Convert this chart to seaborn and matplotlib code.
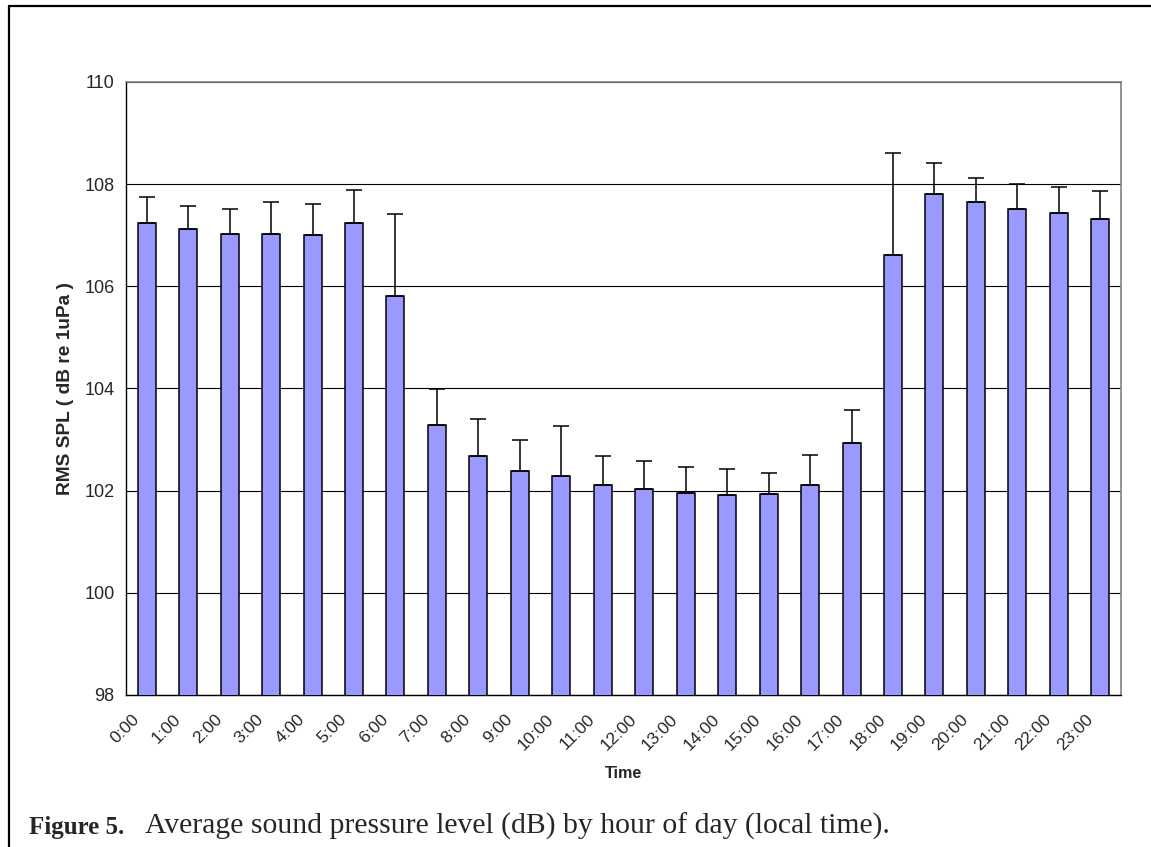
import numpy as np
import pandas as pd
import matplotlib
matplotlib.use("Agg")
import matplotlib.pyplot as plt
from matplotlib.lines import Line2D
from matplotlib.transforms import ScaledTranslation
import seaborn as sns

hours = ["0:00", "1:00", "2:00", "3:00", "4:00", "5:00", "6:00", "7:00",
         "8:00", "9:00", "10:00", "11:00", "12:00", "13:00", "14:00", "15:00",
         "16:00", "17:00", "18:00", "19:00", "20:00", "21:00", "22:00", "23:00"]
mean_spl = [107.24, 107.12, 107.03, 107.03, 107.00, 107.24, 105.82, 103.29,
            102.68, 102.38, 102.29, 102.12, 102.03, 101.95, 101.91, 101.94,
            102.11, 102.93, 106.61, 107.81, 107.65, 107.52, 107.44, 107.31]
sd_spl = [0.51, 0.45, 0.49, 0.62, 0.61, 0.65, 1.60, 0.70,
          0.72, 0.61, 0.98, 0.56, 0.55, 0.51, 0.51, 0.40,
          0.58, 0.65, 2.00, 0.60, 0.47, 0.49, 0.51, 0.55]
y_ticks = [98, 100, 102, 104, 106, 108, 110]

df = pd.DataFrame({"Time": hours, "SPL": mean_spl, "SD": sd_spl})

sns.set_style("white")
plt.rcParams["font.family"] = ["Liberation Sans", "DejaVu Sans"]

W, H = 1151, 847
fig = plt.figure(figsize=(W / 100, H / 100), dpi=100)
ax = fig.add_axes([126 / W, 1 - 695 / H, 995 / W, 613 / H])

sns.barplot(data=df, x="Time", y="SPL", color="#9999FF", saturation=1,
            edgecolor="black", linewidth=1.1, width=0.434, errorbar=None,
            ax=ax, zorder=3)

xpos = np.arange(len(hours))
ax.errorbar(xpos, df["SPL"], yerr=[np.zeros(len(hours)), df["SD"]],
            fmt="none", ecolor="black", elinewidth=1.1, capsize=5.8,
            capthick=1.1, zorder=4)

ax.set_ylim(98, 110)
ax.set_xlim(-0.5, len(hours) - 0.5)
ax.set_yticks(y_ticks)
ax.set_yticklabels([str(v) for v in y_ticks], fontsize=13)
ax.yaxis.grid(True, color="black", linewidth=0.8, zorder=0)
ax.xaxis.grid(False)
ax.set_axisbelow(True)

ax.set_xticks(xpos)
ax.set_xticklabels(hours, rotation=45, ha="right", va="center",
                   rotation_mode="anchor", fontsize=12.6)
ax.set_xticks(np.arange(-0.5, len(hours), 1), minor=True)
ax.tick_params(axis="x", which="major", length=0, pad=16)
ax.tick_params(axis="x", which="minor", length=3.8, width=0.9,
               direction="out", color="black")
ax.tick_params(axis="y", which="major", length=8.5, width=0.9,
               direction="inout", color="black", pad=4)
shift = ScaledTranslation(-0.10, 0, fig.dpi_scale_trans)
for lab in ax.xaxis.get_majorticklabels():
    lab.set_transform(lab.get_transform() + shift)

for s in ["left", "bottom"]:
    ax.spines[s].set_color("black")
    ax.spines[s].set_linewidth(1.0)
for s in ["top", "right"]:
    ax.spines[s].set_color("#808080")
    ax.spines[s].set_linewidth(1.2)

ax.set_xlabel("Time", fontsize=11.6, fontweight="bold")
ax.xaxis.set_label_coords(0.5, (695 - 773.5) / 613)
ax.xaxis.label.set_va("center")
ax.set_ylabel("RMS SPL ( dB re 1uPa )", fontsize=13.8, fontweight="bold")
ax.yaxis.set_label_coords((65.5 - 126) / 995, 0.5)
ax.yaxis.label.set_va("center")

# outer frame (left and top edges)
fig.add_artist(Line2D([8.5 / W, 8.5 / W], [0, 1 - 6.5 / H], color="black",
                      linewidth=1.6, transform=fig.transFigure))
fig.add_artist(Line2D([8.5 / W, 1], [1 - 6.5 / H, 1 - 6.5 / H], color="black",
                      linewidth=1.6, transform=fig.transFigure))

# caption
t1 = fig.text(29 / W, 1 - 834 / H, "Figure 5.", fontsize=18, fontweight="bold",
              family=["Liberation Serif", "DejaVu Serif"], ha="left",
              va="baseline")
fig.canvas.draw()
bb = t1.get_window_extent(renderer=fig.canvas.get_renderer())
fig.text((bb.x1 + 21) / W, 1 - 834 / H,
         "Average sound pressure level (dB) by hour of day (local time).",
         fontsize=21.4, family=["Liberation Serif", "DejaVu Serif"], ha="left",
         va="baseline")

fig.savefig("out.png", dpi=100, facecolor="white")
